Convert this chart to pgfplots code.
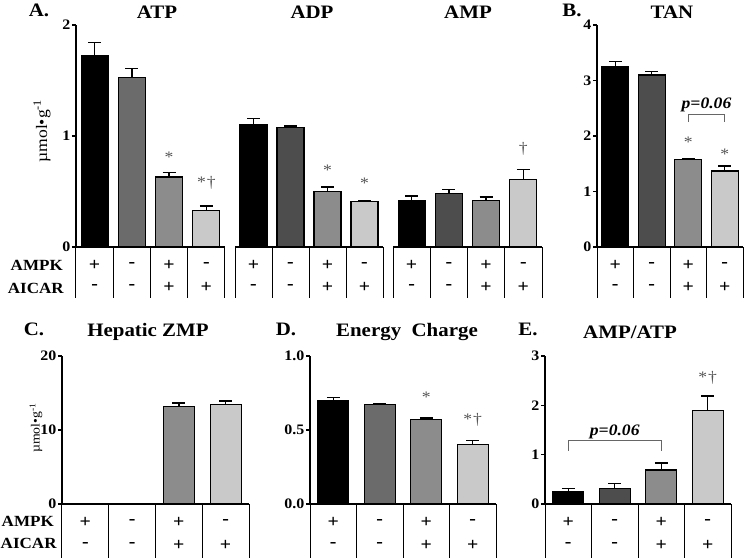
\documentclass[border=0pt]{standalone}
\usepackage{pgfplots}
\pgfplotsset{compat=1.18}
\usepackage{fontspec}
\setmainfont[FakeStretch=1.1]{Liberation Serif}
\definecolor{g1}{HTML}{000000}
\definecolor{g2}{HTML}{4D4D4D}
\definecolor{g2b}{HTML}{6B6B6B}
\definecolor{g3}{HTML}{8C8C8C}
\definecolor{g4}{HTML}{C9C9C9}
\definecolor{ann}{HTML}{555555}
\newcommand{\fs}[1]{\fontsize{#1}{#1}\selectfont}

\pgfplotsset{
  panel/.style={scale only axis, clip=false, xmin=0.5, xmax=4.5, xtick=\empty, ymin=0,
    ybar, bar width=27pt, bar shift=0pt,
    axis x line=bottom, axis y line=left,
    axis line style={line width=1.2pt,-},
    tick align=outside, major tick length=4pt,
    every tick/.style={line width=1.2pt,black},
    y tick label style={font=\fs{14.5}\bfseries, inner sep=1.5pt},
    /pgf/number format/assume math mode=true,
    every axis plot/.append style={draw=black, line width=1.2pt},
  },
  eb/.style={error bars/.cd, y dir=plus, y explicit,
    error bar style={line width=1.4pt, black},
    error mark options={rotate=90, mark size=6.5pt, line width=1.4pt, black}},
  noy/.style={axis y line=none, ytick=\empty},
}
\tikzset{pm/.style={font=\fs{18}\bfseries, inner sep=0pt},
  ann/.style={font=\fs{16}, text=ann, inner sep=0pt},
  tbl/.style={line width=1pt, black},
  brk/.style={line width=0.9pt, draw=black!60}}

% #1 depth, #2 row1 offset, #3 row2 offset
\newcommand{\tbl}[3]{%
  \draw[tbl] (axis cs:0.5,0) -- ++(0pt,-#1) (axis cs:1.5,0) -- ++(0pt,-#1)
    (axis cs:2.5,0) -- ++(0pt,-#1) (axis cs:3.5,0) -- ++(0pt,-#1) (axis cs:4.5,0) -- ++(0pt,-#1);
  \node[pm] at ([yshift=-#2]axis cs:1,0) {+};
  \node[pm] at ([yshift=-#2]axis cs:2,0) {-};
  \node[pm] at ([yshift=-#2]axis cs:3,0) {+};
  \node[pm] at ([yshift=-#2]axis cs:4,0) {-};
  \node[pm] at ([yshift=-#3]axis cs:1,0) {-};
  \node[pm] at ([yshift=-#3]axis cs:2,0) {-};
  \node[pm] at ([yshift=-#3]axis cs:3,0) {+};
  \node[pm] at ([yshift=-#3]axis cs:4,0) {+};
}

\begin{document}
\begin{tikzpicture}[x=1pt,y=1pt]
\useasboundingbox (0,0) rectangle (745,558);

% ---------- A: ATP ----------
\begin{axis}[panel, at={(76pt,311pt)}, anchor=south west, width=149pt, height=222pt,
  ymax=2, ytick={0,1,2}]
\addplot[fill=g1, eb] coordinates {(1,1.72) +- (0,0.12)};
\addplot[fill=g2b, eb] coordinates {(2,1.53) +- (0,0.08)};
\addplot[fill=g3, eb] coordinates {(3,0.63) +- (0,0.04)};
\addplot[fill=g4, eb] coordinates {(4,0.33) +- (0,0.04)};
\node[ann] at (axis cs:3,0.81) {*};
\node[ann] at (axis cs:4,0.58) {*\kern1pt†};
\tbl{51pt}{18pt}{40pt}
\end{axis}

% ---------- A: ADP ----------
\begin{axis}[panel, noy, at={(235pt,311pt)}, anchor=south west, width=148pt, height=222pt,
  ymax=2]
\addplot[fill=g1, eb] coordinates {(1,1.10) +- (0,0.06)};
\addplot[fill=g2, eb] coordinates {(2,1.08) +- (0,0.01)};
\addplot[fill=g3, eb] coordinates {(3,0.50) +- (0,0.04)};
\addplot[fill=g4, eb] coordinates {(4,0.41) +- (0,0.01)};
\node[ann] at (axis cs:3,0.69) {*};
\node[ann] at (axis cs:4,0.57) {*};
\tbl{51pt}{18pt}{40pt}
\end{axis}

% ---------- A: AMP ----------
\begin{axis}[panel, noy, at={(393pt,311pt)}, anchor=south west, width=149pt, height=222pt,
  ymax=2]
\addplot[fill=g1, eb] coordinates {(1,0.42) +- (0,0.04)};
\addplot[fill=g2, eb] coordinates {(2,0.48) +- (0,0.04)};
\addplot[fill=g3, eb] coordinates {(3,0.42) +- (0,0.03)};
\addplot[fill=g4, eb] coordinates {(4,0.61) +- (0,0.09)};
\node[ann] at (axis cs:4,0.88) {†};
\tbl{51pt}{18pt}{40pt}
\end{axis}

% ---------- B: TAN ----------
\begin{axis}[panel, at={(597pt,311pt)}, anchor=south west, width=146pt, height=222pt,
  ymax=4, ytick={0,1,2,3,4}]
\addplot[fill=g1, eb] coordinates {(1,3.25) +- (0,0.09)};
\addplot[fill=g2, eb] coordinates {(2,3.10) +- (0,0.06)};
\addplot[fill=g3, eb] coordinates {(3,1.57) +- (0,0.02)};
\addplot[fill=g4, eb] coordinates {(4,1.37) +- (0,0.09)};
\node[ann] at (axis cs:3,1.89) {*};
\node[ann] at (axis cs:4,1.67) {*};
\draw[brk] (axis cs:3,2.25) -- (axis cs:3,2.38) -- (axis cs:4,2.38) -- (axis cs:4,2.25);
\node[font=\fs{16}\bfseries\itshape] at (axis cs:3.5,2.56) {p=0.06};
\tbl{51pt}{18pt}{40pt}
\end{axis}

% ---------- C: Hepatic ZMP ----------
\begin{axis}[panel, bar width=31pt, at={(62pt,54pt)}, anchor=south west, width=187pt, height=148pt,
  ymax=20, ytick={0,10,20}]
\addplot[fill=g1] coordinates {(1,0)};
\addplot[fill=g2] coordinates {(2,0)};
\addplot[fill=g3, eb] coordinates {(3,13.2) +- (0,0.45)};
\addplot[fill=g4, eb] coordinates {(4,13.4) +- (0,0.5)};
\tbl{54pt}{18pt}{41pt}
\end{axis}

% ---------- D: Energy Charge ----------
\begin{axis}[panel, bar width=31pt, at={(310pt,54pt)}, anchor=south west, width=186pt, height=148pt,
  ymax=1, ytick={0,0.5,1},
  yticklabel style={/pgf/number format/.cd, fixed, fixed zerofill, precision=1}]
\addplot[fill=g1, eb] coordinates {(1,0.70) +- (0,0.02)};
\addplot[fill=g2b, eb] coordinates {(2,0.67) +- (0,0.01)};
\addplot[fill=g3, eb] coordinates {(3,0.57) +- (0,0.01)};
\addplot[fill=g4, eb] coordinates {(4,0.40) +- (0,0.03)};
\node[ann] at (axis cs:3,0.72) {*};
\node[ann] at (axis cs:4,0.57) {*\kern1pt†};
\tbl{54pt}{18pt}{41pt}
\end{axis}

% ---------- E: AMP/ATP ----------
\begin{axis}[panel, bar width=31pt, at={(545pt,54pt)}, anchor=south west, width=186pt, height=148pt,
  ymax=3, ytick={0,1,2,3}]
\addplot[fill=g1, eb] coordinates {(1,0.26) +- (0,0.06)};
\addplot[fill=g2, eb] coordinates {(2,0.32) +- (0,0.09)};
\addplot[fill=g3, eb] coordinates {(3,0.69) +- (0,0.14)};
\addplot[fill=g4, eb] coordinates {(4,1.89) +- (0,0.30)};
\node[ann] at (axis cs:4,2.55) {*\kern1pt†};
\draw[brk] (axis cs:1,1.08) -- (axis cs:1,1.28) -- (axis cs:3,1.28) -- (axis cs:3,1.08);
\node[font=\fs{16}\bfseries\itshape] at (axis cs:2,1.46) {p=0.06};
\tbl{54pt}{18pt}{41pt}
\end{axis}

% ---------- titles ----------
\begin{scope}[every node/.style={font=\fs{19}\bfseries, inner sep=0pt}]
\node at (39,548) {A.};
\node at (157,546) {ATP};
\node at (312,546) {ADP};
\node at (468,546) {AMP};
\node at (572,548) {B.};
\node at (672,546) {TAN};
\node at (34,229) {C.};
\node at (148,226) {Hepatic ZMP};
\node at (286,229) {D.};
\node at (407,226) {Energy\ \ Charge};
\node at (528,229) {E.};
\node at (630,226) {AMP/ATP};
\end{scope}

% ---------- row labels ----------
\begin{scope}[every node/.style={font=\fs{15.5}\bfseries, inner sep=0pt}]
\node[anchor=east] at (63,293) {AMPK};
\node[anchor=east] at (64,270) {AICAR};
\node[anchor=east] at (54,37) {AMPK};
\node[anchor=west] at (0.5,15) {AICAR};
\end{scope}

% ---------- y labels ----------
\node[rotate=90, font=\fs{16}, inner sep=0pt] at (42,427) {µmol•g\textsuperscript{-1}};
\node[rotate=90, font=\fs{12.5}, inner sep=0pt] at (36,130) {µmol•g\textsuperscript{-1}};
\end{tikzpicture}
\end{document}
